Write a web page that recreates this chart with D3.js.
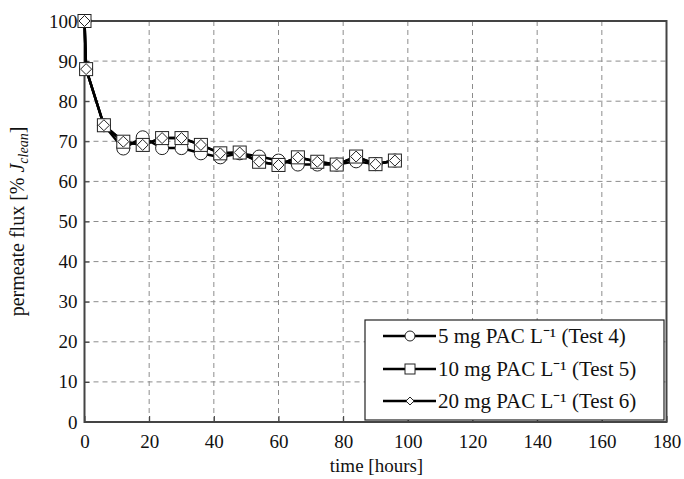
<!DOCTYPE html>
<html><head><meta charset="utf-8">
<script src="https://cdn.jsdelivr.net/npm/d3@7"></script>
<style>body{margin:0;background:#fff}svg{display:block}</style>
</head><body><svg id="c" width="684" height="479"></svg>
<script>
const times = [0, 0.5, 6, 12, 18, 24, 30, 36, 42, 48, 54, 60, 66, 72, 78, 84, 90, 96];
const test4 = [100, 88, 74, 68.2, 71, 68.3, 68.3, 67, 66, 67, 66.2, 65.2, 64.2, 64.2, 64.2, 65, 64.3, 65.2];
const test5 = [100, 88, 74, 69.9, 69.1, 70.8, 70.8, 69.1, 67, 67.2, 64.9, 64.1, 66, 64.9, 64.2, 66.2, 64.3, 65.2];
const test6 = [100, 88, 74, 69.9, 69.1, 70.8, 70.8, 69.1, 67, 67.2, 64.9, 64.1, 66, 64.9, 64.2, 66.2, 64.3, 65.2];
const xTicks = [0, 20, 40, 60, 80, 100, 120, 140, 160, 180];
const yTicks = [0, 10, 20, 30, 40, 50, 60, 70, 80, 90, 100];
const legendLabels = ["5 mg PAC L\u207B\u00B9 (Test 4)", "10 mg PAC L\u207B\u00B9 (Test 5)", "20 mg PAC L\u207B\u00B9 (Test 6)"];
const markers = ["circle", "square", "diamond"];

const FONT = "'Liberation Serif', 'Times New Roman', serif";
const svg = d3.select("#c").style("font-family", FONT);
const L = 84.5, R = 666.5, T = 21, B = 422;
const x = d3.scaleLinear().domain([0, 180]).range([L, R]);
const y = d3.scaleLinear().domain([0, 100]).range([B, T]);

// grid
const g = svg.append("g");
g.selectAll(".gx").data(xTicks.filter(d => d > 0 && d < 180)).join("line")
  .attr("x1", d => x(d)).attr("x2", d => x(d)).attr("y1", T).attr("y2", B)
  .attr("stroke", "#8c8c8c").attr("stroke-width", 1).attr("stroke-dasharray", "5,4");
g.selectAll(".gy").data(yTicks.filter(d => d > 0 && d < 100)).join("line")
  .attr("x1", L).attr("x2", R).attr("y1", d => y(d)).attr("y2", d => y(d))
  .attr("stroke", "#8c8c8c").attr("stroke-width", 1).attr("stroke-dasharray", "5,4");

// axes
const xAxis = d3.axisBottom(x).tickValues(xTicks).tickSize(-6).tickPadding(13).tickSizeOuter(0);
const yAxis = d3.axisLeft(y).tickValues(yTicks).tickSize(-5).tickPadding(7).tickSizeOuter(0);
const gx = svg.append("g").attr("transform", `translate(0,${B})`).call(xAxis);
const gy = svg.append("g").attr("transform", `translate(${L},0)`).call(yAxis);
[gx, gy].forEach(a => {
  a.attr("font-family", FONT).attr("font-size", 19);
  a.select(".domain").remove();
  a.selectAll("line").attr("stroke", "#333");
  a.selectAll("text").attr("fill", "#111").style("font-family", FONT).style("font-size", "19px");
});
gx.selectAll("text").attr("dy", "0.71em");

// frame
svg.append("rect").attr("x", L).attr("y", T).attr("width", R - L).attr("height", B - T)
  .attr("fill", "none").attr("stroke", "#444").attr("stroke-width", 2);

// titles
svg.append("text").attr("x", (L + R) / 2 + 1).attr("y", 472).attr("text-anchor", "middle")
  .attr("font-size", 19).attr("fill", "#111").text("time [hours]");
const yl = svg.append("text").attr("transform", `translate(24,${(T + B) / 2}) rotate(-90)`)
  .attr("text-anchor", "middle").attr("font-size", 20).attr("fill", "#111");
yl.append("tspan").text("permeate flux [% ");
yl.append("tspan").attr("font-style", "italic").text("J");
yl.append("tspan").attr("font-style", "italic").attr("font-size", 14).attr("dy", 4).text("clean");
yl.append("tspan").attr("dy", -4).text("]");

// series
const series = [test4, test5, test6];
const line = d3.line().x(d => x(d[0])).y(d => y(d[1]));
function drawMarker(sel, type, cx, cy, s) {
  if (type === "circle") sel.append("circle").attr("cx", cx).attr("cy", cy).attr("r", s * 0.5)
    .attr("fill", "#fff").attr("stroke", "#222").attr("stroke-width", 1);
  else if (type === "square") sel.append("rect").attr("x", cx - s / 2).attr("y", cy - s / 2).attr("width", s).attr("height", s)
    .attr("fill", "#fff").attr("stroke", "#222").attr("stroke-width", 1);
  else sel.append("path").attr("d", `M${cx},${cy - s / 2}L${cx + s / 2},${cy}L${cx},${cy + s / 2}L${cx - s / 2},${cy}Z`)
    .attr("fill", "#fff").attr("stroke", "#222").attr("stroke-width", 1);
}
series.forEach(vals => {
  const pts = times.map((t, i) => [t, vals[i]]);
  svg.append("path").attr("d", line(pts)).attr("fill", "none").attr("stroke", "#000").attr("stroke-width", 2.5);
});
const sizes = [13, 13, 11];
series.forEach((vals, si) => {
  const gm = svg.append("g");
  times.forEach((t, i) => drawMarker(gm, markers[si], x(t), y(vals[i]), sizes[si]));
});

// legend
const lg = svg.append("g");
lg.append("rect").attr("x", 365).attr("y", 320).attr("width", 299).attr("height", 100)
  .attr("fill", "#fff").attr("stroke", "#222").attr("stroke-width", 1.2);
const rowsY = [336, 369, 401];
const lsz = [10, 10, 8];
legendLabels.forEach((lab, i) => {
  lg.append("line").attr("x1", 383).attr("x2", 436).attr("y1", rowsY[i]).attr("y2", rowsY[i])
    .attr("stroke", "#000").attr("stroke-width", 2.5);
  drawMarker(lg, markers[i], 410, rowsY[i], lsz[i]);
  lg.append("text").attr("x", 438).attr("y", rowsY[i]).attr("dy", "0.35em")
    .attr("font-size", 21).attr("fill", "#111").text(lab);
});
</script></body></html>
